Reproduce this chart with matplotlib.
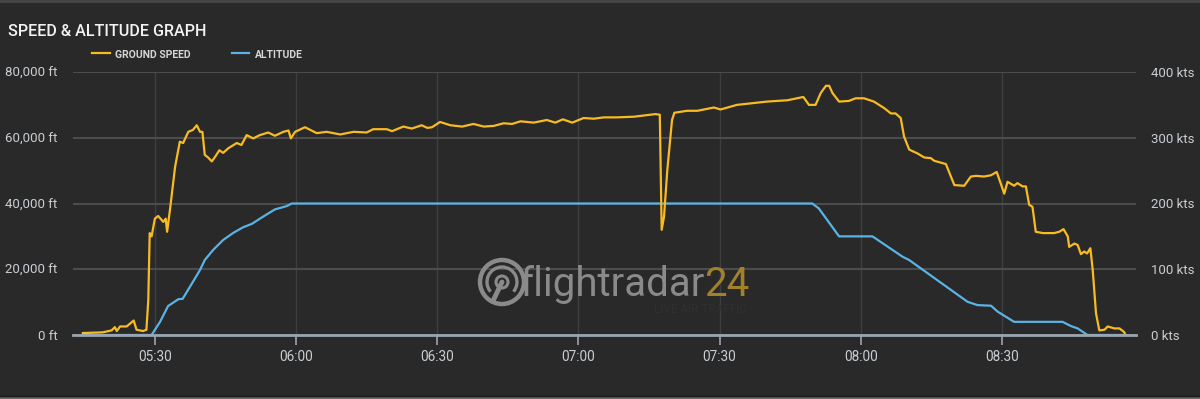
import matplotlib
matplotlib.use("Agg")
import matplotlib.pyplot as plt
from matplotlib.ticker import FuncFormatter, MultipleLocator
from matplotlib.patches import Circle, Arc
from matplotlib.lines import Line2D

# time in minutes after midnight (UTC)
speed_t = [314.7, 318.9, 320.8, 321.5, 321.9, 322.6, 324.0, 325.5, 326.1, 327.5,
           328.2, 328.6, 328.9, 329.3, 330.0, 330.7, 331.8, 332.3, 332.6, 333.2,
           334.3, 335.3, 336.0, 337.1, 338.1, 338.9, 339.6, 340.1, 340.6, 341.3,
           342.1, 342.8, 343.7, 344.5, 345.6, 347.4, 348.4, 349.5, 350.9, 352.3,
           354.1, 355.5, 357.3, 358.4, 358.9, 359.8, 361.9, 364.4, 366.5, 369.4,
           372.2, 375.0, 376.4, 379.3, 380.4, 382.8, 384.6, 386.7, 387.9, 388.9,
           390.6, 392.8, 395.3, 397.7, 399.9, 402.0, 404.1, 405.9, 407.7, 410.5,
           413.3, 415.1, 416.7, 418.7, 421.1, 423.3, 425.4, 428.2, 431.8, 436.4,
           437.3, 437.7, 438.2, 438.9, 439.9, 440.4, 443.1, 445.3, 448.8, 450.2,
           453.7, 460.1, 464.4, 467.8, 469.0, 470.4, 471.5, 472.6, 473.3, 474.0,
           475.4, 477.5, 478.9, 480.7, 482.8, 485.0, 486.4, 487.4, 488.5, 489.2,
           490.3, 492.1, 493.5, 494.9, 495.6, 498.1, 499.9, 502.0, 503.4, 504.5,
           506.2, 507.7, 508.9, 510.5, 511.2, 512.6, 513.3, 514.4, 515.1, 515.8,
           516.5, 517.2, 518.7, 521.1, 522.2, 523.1, 524.0, 524.3, 525.4, 526.1,
           526.8, 527.5, 528.1, 528.8, 529.3, 530.0, 530.7, 531.8, 532.5, 533.9,
           535.0, 535.9, 536.1]
# ground speed in knots
speed_kts = [3, 4, 7, 12, 6, 13, 13, 22, 8, 6,
             8, 53, 155, 150, 177, 181, 172, 177, 157, 190,
             256, 294, 292, 309, 312, 319, 309, 309, 274, 270,
             264, 271, 281, 277, 284, 292, 289, 304, 299, 304,
             308, 303, 309, 311, 299, 309, 316, 307, 309, 305,
             309, 308, 313, 313, 310, 317, 314, 319, 315, 316,
             324, 319, 317, 321, 317, 318, 322, 321, 325, 323,
             327, 323, 328, 323, 330, 329, 331, 331, 332, 336,
             335, 160, 180, 251, 327, 338, 341, 341, 346, 343,
             350, 355, 357, 362, 350, 350, 368, 379, 379, 368,
             355, 356, 360, 360, 355, 345, 337, 337, 330, 302,
             282, 276, 270, 269, 265, 260, 228, 227, 241, 242,
             241, 243, 248, 215, 233, 227, 231, 226, 226, 198,
             195, 157, 155, 155, 157, 161, 150, 134, 139, 137,
             123, 127, 124, 132, 99, 33, 7, 8, 13, 10,
             10, 5, 3]

alt_t = [314.7, 329.3, 331.1, 332.8, 335.0, 335.9, 338.1, 339.6, 340.6, 342.4,
         344.5, 346.7, 348.8, 350.6, 353.0, 355.5, 358.0, 359.1, 469.7, 471.1,
         475.4, 482.5, 488.9, 490.3, 502.7, 504.8, 507.7, 509.1, 512.6, 522.9,
         524.7, 526.1, 528.2, 536.4]
# altitude in feet
alt_ft = [0, 0, 4000, 8800, 10900, 11000, 16200, 19800, 22800, 25900,
          28900, 31100, 32800, 33800, 36000, 38200, 39200, 40000, 40000, 38500,
          30000, 30000, 23800, 22800, 10100, 9100, 8900, 7100, 4000, 4000,
          2700, 2000, 0, 0]

bg = "#292929"
yellow = "#f8bb22"
blue = "#5ab3e4"
tick_col = "#c9ced3"
plt.rcParams["font.family"] = ["Roboto", "DejaVu Sans"]

fig = plt.figure(figsize=(12, 3.99), dpi=100, facecolor=bg)
ax = fig.add_axes([73 / 1200, 64 / 399, 1063 / 1200, 263 / 399])
ax.set_facecolor(bg)
ax2 = ax.twinx()

ax.plot(alt_t, alt_ft, color=blue, lw=1.6, zorder=3)
ax2.plot(speed_t, speed_kts, color=yellow, lw=1.6, zorder=3)

ax.set_xlim(312.6, 538.5)
ax.set_ylim(0, 80000)
ax2.set_ylim(0, 400)
ax.xaxis.set_major_locator(MultipleLocator(30))
ax.xaxis.set_major_formatter(FuncFormatter(lambda m, p: f"{int(m // 60):02d}:{int(m % 60):02d}"))
ax.yaxis.set_major_locator(MultipleLocator(20000))
ax.yaxis.set_major_formatter(FuncFormatter(lambda v, p: f"{int(v):,} ft"))
ax2.yaxis.set_major_locator(MultipleLocator(100))
ax2.yaxis.set_major_formatter(FuncFormatter(lambda v, p: f"{int(v)} kts"))

ax.grid(axis="y", color="#4c4c4c", lw=1.5, zorder=0)
ax.grid(axis="x", color="#3e3e3e", lw=1.0, zorder=0)
ax.set_axisbelow(True)

for a in (ax, ax2):
    for s in a.spines.values():
        s.set_visible(False)
ax.spines["bottom"].set_visible(True)
ax.spines["bottom"].set_color("#9aa5b0")
ax.spines["bottom"].set_linewidth(2)
ax.spines["bottom"].set_zorder(4)

ax.tick_params(axis="x", colors="#9aa5b0", length=7, width=1.2, labelcolor=tick_col,
               labelsize=9.8, pad=4)
ax.tick_params(axis="y", length=0, labelcolor=tick_col, labelsize=9.5, pad=11)
ax2.tick_params(axis="y", length=0, labelcolor=tick_col, labelsize=9.5, pad=11)

# title and legend
fig.text(8 / 1200, 1 - 36 / 399, "SPEED & ALTITUDE GRAPH", color="#f2f2f2",
         fontsize=11.6, fontweight="medium", va="baseline", ha="left")
fig.add_artist(Line2D([92 / 1200, 110 / 1200], [1 - 53 / 399] * 2, color=yellow, lw=1.6))
fig.text(115 / 1200, 1 - 57.5 / 399, "GROUND SPEED", color="#d6d6d6", fontsize=7.5,
         fontweight="bold", va="baseline")
fig.add_artist(Line2D([232 / 1200, 249 / 1200], [1 - 53 / 399] * 2, color=blue, lw=1.6))
fig.text(255 / 1200, 1 - 57.5 / 399, "ALTITUDE", color="#d6d6d6", fontsize=7.5,
         fontweight="bold", va="baseline")

# watermark
fig.text(520 / 1200, 1 - 296 / 399, "flightradar", color="#8a8a8a", fontsize=29,
         va="baseline", ha="left", zorder=2)
fig.text(704 / 1200, 1 - 296 / 399, "24", color="#a3802b", fontsize=29,
         va="baseline", ha="left", zorder=2)
fig.text(747 / 1200, 1 - 313 / 399, "LIVE AIR TRAFFIC", color="#303030", fontsize=8.5,
         va="baseline", ha="right", zorder=2)
icon = fig.add_axes([474 / 1200, 1 - 310 / 399, 56 / 1200, 56 / 399])
icon.set_xlim(-28, 28)
icon.set_ylim(-28, 28)
icon.set_aspect("equal")
icon.axis("off")
icon.patch.set_alpha(0)
icon.add_patch(Circle((0, 0), 22, fill=False, ec="#8a8a8a", lw=3.2))
icon.add_patch(Arc((0, 0), 30, 30, theta1=-40, theta2=220, ec="#8a8a8a", lw=2.4))
icon.add_patch(Circle((0, 0), 6, fill=False, ec="#8a8a8a", lw=2.2))
icon.plot([0, -9], [0, -19], color="#8a8a8a", lw=3.5, solid_capstyle="round")

# frame lines
fig.add_artist(Line2D([0, 1], [0.997, 0.997], color="#474747", lw=2))
fig.add_artist(Line2D([0, 1], [0.003, 0.003], color="#6a6a6a", lw=2))
fig.add_artist(Line2D([0, 1], [0.008, 0.008], color="#1c1c1c", lw=1))

fig.savefig("out.png", dpi=100, facecolor=bg)
